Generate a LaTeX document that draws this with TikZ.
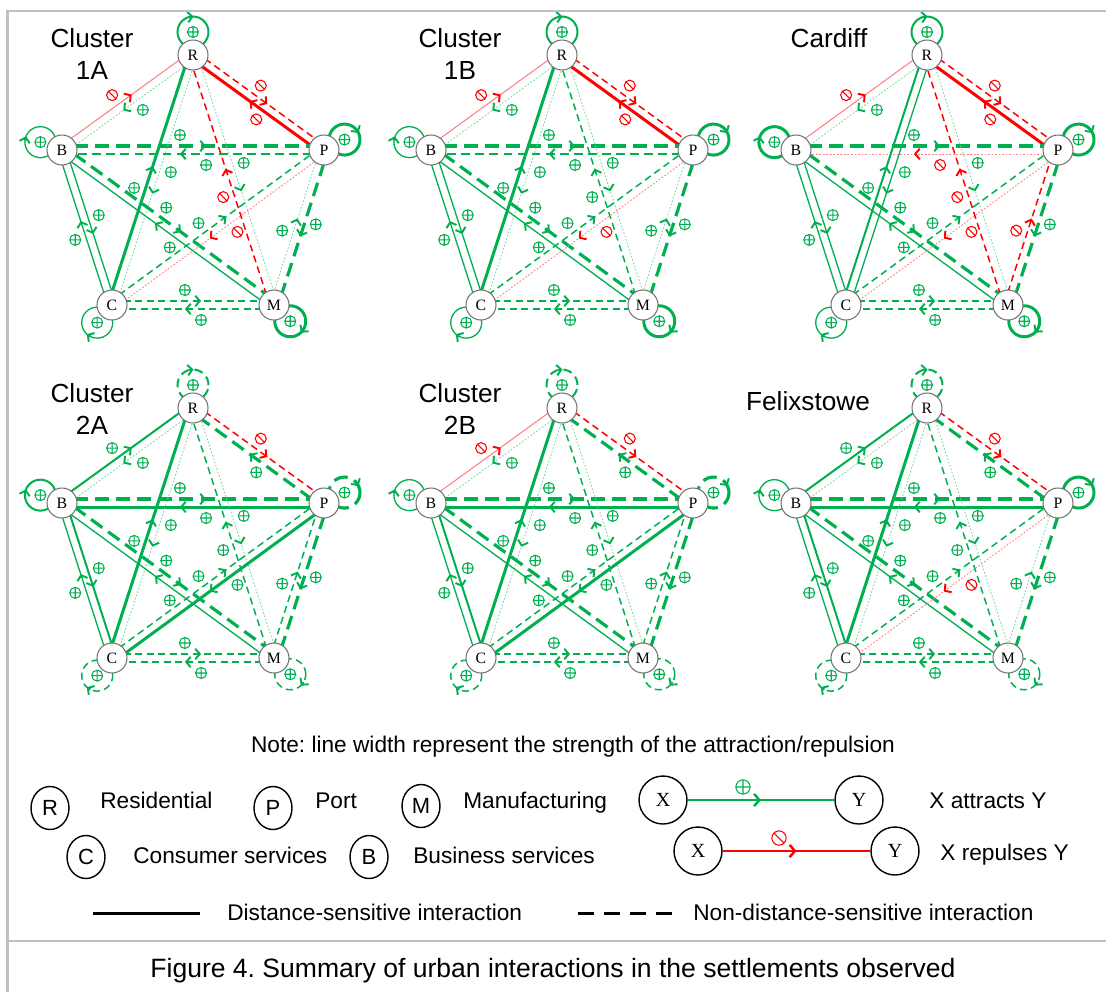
\documentclass[tikz,border=0pt]{standalone}
\usepackage{fontspec}
\setmainfont{Liberation Sans}
\newfontfamily\nodeserif{Liberation Serif}
\usetikzlibrary{calc,decorations.markings,arrows.meta,shapes.geometric}
\pgfdeclarelayer{background}
\pgfsetlayers{background,main}
\frenchspacing
\definecolor{mygreen}{HTML}{00B050}
\definecolor{myred}{HTML}{FF0000}
\definecolor{framegray}{HTML}{C0C0C0}
\tikzset{
 vnode/.style={circle, draw=black!55, line width=0.6pt, fill=white, minimum size=0.6cm, inner sep=0pt, font=\nodeserif\fontsize{9}{9}\selectfont},
 gS3/.style={mygreen, line width=1.7pt},
 gS2/.style={mygreen, line width=1.15pt},
 gS1/.style={mygreen, line width=0.75pt},
 gD3/.style={mygreen, line width=1.8pt, dash pattern=on 8pt off 4pt},
 gD2/.style={mygreen, line width=1.15pt, dash pattern=on 5pt off 3pt},
 gD1/.style={mygreen, line width=0.85pt, dash pattern=on 4pt off 2.5pt},
 gF/.style={mygreen!50, line width=0.5pt, dash pattern=on 1pt off 1pt},
 rS3/.style={myred, line width=1.7pt},
 rS1/.style={myred!50, line width=0.6pt},
 rD1/.style={myred, line width=0.85pt, dash pattern=on 4pt off 2.5pt},
 rF/.style={myred!50, line width=0.5pt, dash pattern=on 1pt off 1pt},
 scp/.style={color=mygreen},
 scm/.style={color=myred},
 pics/symp/.style={code={\draw[mygreen, line width=0.6pt] (0,0) circle[radius=0.11cm] (-0.11cm,0cm) -- (0.11cm,0cm) (0cm,-0.11cm) -- (0cm,0.11cm);}},
 pics/symm/.style={code={\draw[myred, line width=0.6pt] (0,0) circle[radius=0.11cm] (135:0.11cm) -- (-45:0.11cm);}},
 ttl/.style={anchor=base, font=\fontsize{14.9}{18}\selectfont},
 lgtext/.style={anchor=base west, inner sep=0pt, font=\fontsize{12.9}{15}\selectfont},
 lgnode/.style={ellipse, draw=black, line width=0.8pt, minimum width=0.76cm, minimum height=0.86cm, inner sep=0pt, font=\fontsize{12.5}{14}\selectfont},
 xynode/.style={circle, draw=black, line width=0.8pt, minimum size=0.96cm, inner sep=0pt, font=\nodeserif\fontsize{11.4}{13}\selectfont},
}
\newcommand\pnodes[3]{%
 \def\pfx{#1}%
 \node[vnode] (#1R) at (193+#2,55+#3) {R};
 \node[vnode] (#1P) at (324+#2,150+#3) {P};
 \node[vnode] (#1M) at (274+#2,305+#3) {M};
 \node[vnode] (#1C) at (112+#2,305+#3) {C};
 \node[vnode] (#1B) at (62+#2,150+#3) {B};
}
\newcommand\E[4]{%
 \draw[#3, shorten <=0.24cm, shorten >=0.24cm, postaction={decorate},
   decoration={markings, mark=at position 0.55 with {\arrow[sc#4]{Straight Barb[length=2.6pt,width=6pt,line width=1.1pt]}}}]
   ($(\pfx#1)!0.08cm!90:(\pfx#2)$) -- ($(\pfx#2)!0.08cm!-90:(\pfx#1)$);
 \pic at ($(\pfx#1)!0.45!(\pfx#2)!0.3cm!90:(\pfx#2)$) {sym#4};
}
\newcommand\Lp[3]{%
 \coordinate (lc) at ($(\pfx#1)+(#2:0.46cm)$);
 \draw[#3] (lc) circle[radius=0.31cm];
 \draw[scp, line width=1.1pt, -{Straight Barb[length=2.6pt,width=6pt]}] ($(lc)+(#2+14:0.31cm)$) -- ($(lc)+(#2-2:0.31cm)$);
 \pic at (lc) {symp};
}
\begin{document}
\begin{tikzpicture}[x=0.02cm, y=-0.02cm]
\useasboundingbox (0,0) rectangle (1106,992);
\draw[framegray, line width=1.2pt] (7.5,992) -- (7.5,11) -- (1106,11);
\draw[framegray, line width=1.2pt] (7.5,941) -- (1106,941);

% ---------- Cluster 1A
\pnodes{a}{0}{0}
\begin{pgfonlayer}{background}
\E{R}{P}{rD1}{m} \E{P}{R}{rS3}{m}
\E{R}{B}{gF}{p} \E{B}{R}{rS1}{m}
\E{B}{P}{gD3}{p} \E{P}{B}{gD2}{p}
\E{R}{C}{gF}{p} \E{C}{R}{gS3}{p}
\E{R}{M}{gF}{p} \E{M}{R}{rD1}{m}
\E{B}{M}{gD3}{p} \E{M}{B}{gS1}{p}
\E{C}{P}{gD1}{p} \E{P}{C}{rF}{m}
\E{P}{M}{gD3}{p} \E{M}{P}{gF}{p}
\E{C}{M}{gD1}{p} \E{M}{C}{gD1}{p}
\E{B}{C}{gS1}{p} \E{C}{B}{gS1}{p}
\Lp{R}{90}{gS2} \Lp{P}{27}{gS3} \Lp{M}{-45}{gS3} \Lp{C}{230}{gS1} \Lp{B}{160}{gS1}
\end{pgfonlayer}
\node[ttl] (ta1) at (92,47) {Cluster};
\node[ttl] (ta2) at (92,79) {1A};

% ---------- Cluster 1B
\pnodes{b}{369}{0}
\begin{pgfonlayer}{background}
\E{R}{P}{rD1}{m} \E{P}{R}{rS3}{m}
\E{R}{B}{gF}{p} \E{B}{R}{rS1}{m}
\E{B}{P}{gD3}{p} \E{P}{B}{gD2}{p}
\E{R}{C}{gF}{p} \E{C}{R}{gS3}{p}
\E{R}{M}{gF}{p} \E{M}{R}{gD1}{p}
\E{B}{M}{gD3}{p} \E{M}{B}{gS1}{p}
\E{C}{P}{gD1}{p} \E{P}{C}{rF}{m}
\E{P}{M}{gD3}{p} \E{M}{P}{gF}{p}
\E{C}{M}{gD1}{p} \E{M}{C}{gD1}{p}
\E{B}{C}{gS1}{p} \E{C}{B}{gS1}{p}
\Lp{R}{90}{gS2} \Lp{P}{27}{gS3} \Lp{M}{-45}{gS3} \Lp{C}{230}{gS1} \Lp{B}{160}{gS1}
\end{pgfonlayer}
\node[ttl] (tb1) at (460,47) {Cluster};
\node[ttl] (tb2) at (460,79) {1B};

% ---------- Cardiff
\pnodes{c}{734}{0}
\begin{pgfonlayer}{background}
\E{R}{P}{rD1}{m} \E{P}{R}{rS3}{m}
\E{R}{B}{gF}{p} \E{B}{R}{rS1}{m}
\E{B}{P}{gD3}{p} \E{P}{B}{rF}{m}
\E{R}{C}{gS1}{p} \E{C}{R}{gS2}{p}
\E{R}{M}{gF}{p} \E{M}{R}{rD1}{m}
\E{B}{M}{gD3}{p} \E{M}{B}{gS1}{p}
\E{C}{P}{gD1}{p} \E{P}{C}{rF}{m}
\E{P}{M}{gD3}{p} \E{M}{P}{rD1}{m}
\E{C}{M}{gD1}{p} \E{M}{C}{gD1}{p}
\E{B}{C}{gS1}{p} \E{C}{B}{gS1}{p}
\Lp{R}{90}{gS2} \Lp{P}{27}{gS3} \Lp{M}{-45}{gS3} \Lp{C}{230}{gS1} \Lp{B}{160}{gS3}
\end{pgfonlayer}
\node[ttl] (tc1) at (829,47) {Cardiff};

% ---------- Cluster 2A
\pnodes{d}{0}{353}
\begin{pgfonlayer}{background}
\E{R}{P}{rD1}{m} \E{P}{R}{gD3}{p}
\E{R}{B}{gF}{p} \E{B}{R}{gS2}{p}
\E{B}{P}{gD3}{p} \E{P}{B}{gS3}{p}
\E{R}{C}{gF}{p} \E{C}{R}{gS3}{p}
\E{R}{M}{gF}{p} \E{M}{R}{gD1}{p}
\E{B}{M}{gD3}{p} \E{M}{B}{gS1}{p}
\E{C}{P}{gD1}{p} \E{P}{C}{gS3}{p}
\E{P}{M}{gD3}{p} \E{M}{P}{gD1}{p}
\E{C}{M}{gD1}{p} \E{M}{C}{gD1}{p}
\E{B}{C}{gS2}{p} \E{C}{B}{gS1}{p}
\Lp{R}{90}{gD2} \Lp{P}{27}{gD3} \Lp{M}{-45}{gD1} \Lp{C}{230}{gD1} \Lp{B}{160}{gS2}
\end{pgfonlayer}
\node[ttl] (td1) at (92,402) {Cluster};
\node[ttl] (td2) at (92,434) {2A};

% ---------- Cluster 2B
\pnodes{e}{369}{353}
\begin{pgfonlayer}{background}
\E{R}{P}{rD1}{m} \E{P}{R}{gD3}{p}
\E{R}{B}{gF}{p} \E{B}{R}{rS1}{m}
\E{B}{P}{gD3}{p} \E{P}{B}{gS3}{p}
\E{R}{C}{gF}{p} \E{C}{R}{gS3}{p}
\E{R}{M}{gF}{p} \E{M}{R}{gD1}{p}
\E{B}{M}{gD3}{p} \E{M}{B}{gS1}{p}
\E{C}{P}{gD1}{p} \E{P}{C}{gS3}{p}
\E{P}{M}{gD3}{p} \E{M}{P}{gD1}{p}
\E{C}{M}{gD1}{p} \E{M}{C}{gD1}{p}
\E{B}{C}{gS2}{p} \E{C}{B}{gS1}{p}
\Lp{R}{90}{gD2} \Lp{P}{27}{gD3} \Lp{M}{-45}{gD1} \Lp{C}{230}{gD1} \Lp{B}{160}{gS1}
\end{pgfonlayer}
\node[ttl] (te1) at (460,402) {Cluster};
\node[ttl] (te2) at (460,434) {2B};

% ---------- Felixstowe
\pnodes{f}{734}{353}
\begin{pgfonlayer}{background}
\E{R}{P}{rD1}{m} \E{P}{R}{gD3}{p}
\E{R}{B}{gF}{p} \E{B}{R}{gS2}{p}
\E{B}{P}{gD3}{p} \E{P}{B}{gS3}{p}
\E{R}{C}{gF}{p} \E{C}{R}{gS3}{p}
\E{R}{M}{gF}{p} \E{M}{R}{gD1}{p}
\E{B}{M}{gD3}{p} \E{M}{B}{gS1}{p}
\E{C}{P}{gD1}{p} \E{P}{C}{rF}{m}
\E{P}{M}{gD3}{p} \E{M}{P}{gF}{p}
\E{C}{M}{gD1}{p} \E{M}{C}{gD1}{p}
\E{B}{C}{gS2}{p} \E{C}{B}{gS1}{p}
\Lp{R}{90}{gD2} \Lp{P}{27}{gS3} \Lp{M}{-45}{gD1} \Lp{C}{230}{gD1} \Lp{B}{160}{gS1}
\end{pgfonlayer}
\node[ttl] (tf1) at (808,410) {Felixstowe};

% ---------- Legend
\node[lgtext, anchor=base] (note) at (573,752) {Note: line width represent the strength of the attraction/repulsion};
\node[lgnode] (lR) at (50,808) {R};
\node[lgtext] (lRt) at (100,808) {Residential};
\node[lgnode] (lP) at (273,808) {P};
\node[lgtext] (lPt) at (315,808) {Port};
\node[lgnode] (lM) at (421,806) {M};
\node[lgtext] (lMt) at (463,808) {Manufacturing};
\node[lgnode] (lC) at (86,857) {C};
\node[lgtext] (lCt) at (133,863) {Consumer services};
\node[lgnode] (lB) at (369,857) {B};
\node[lgtext] (lBt) at (413,863) {Business services};

\node[xynode] (lX1) at (663,800) {X};
\node[xynode] (lY1) at (859,800) {Y};
\draw[mygreen, line width=0.9pt, postaction={decorate},
  decoration={markings, mark=at position 0.5 with {\arrow[scp]{Straight Barb[length=3pt,width=7pt,line width=1.4pt]}}}] (lX1) -- (lY1);
\pic[scale=1.3] at (743,787) {symp};
\node[lgtext] (lat) at (929,808) {X attracts Y};

\node[xynode] (lX2) at (698,851) {X};
\node[xynode] (lY2) at (895,851) {Y};
\draw[myred, line width=0.9pt, postaction={decorate},
  decoration={markings, mark=at position 0.5 with {\arrow[scm]{Straight Barb[length=3pt,width=7pt,line width=1.4pt]}}}] (lX2) -- (lY2);
\pic[scale=1.3] at (779,838) {symm};
\node[lgtext] (lrp) at (940,860) {X repulses Y};

\coordinate (s1) at (93,913); \coordinate (s2) at (200,913);
\draw[black, line width=1.7pt] (s1) -- (s2);
\node[lgtext] (lds) at (227,920) {Distance-sensitive interaction};
\coordinate (d1) at (578,913); \coordinate (d2) at (673,913);
\draw[black, line width=1.7pt, dash pattern=on 9.1pt off 5.7pt] (d1) -- (d2);
\node[lgtext] (lnd) at (693,920) {Non-distance-sensitive interaction};

\node[anchor=base, font=\fontsize{15.1}{18}\selectfont] (cap) at (553,977) {Figure 4. Summary of urban interactions in the settlements observed};
\end{tikzpicture}
\end{document}
